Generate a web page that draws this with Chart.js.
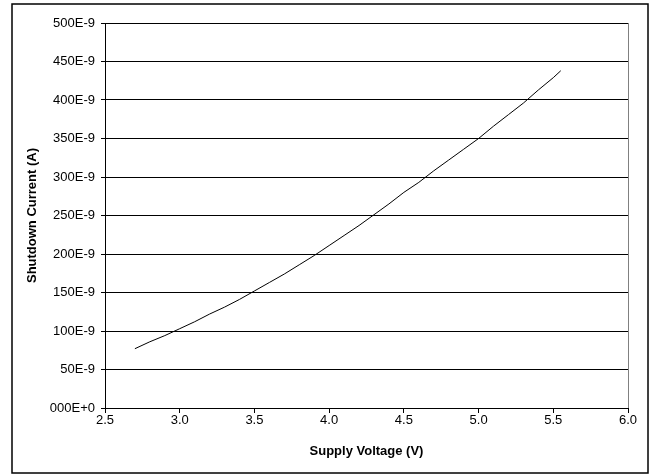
<!DOCTYPE html>
<html>
<head>
<meta charset="utf-8">
<script src="https://cdn.jsdelivr.net/npm/chart.js@4"></script>
<style>
  body { margin: 0; background: #fff; }
  #wrap { position: relative; width: 657px; height: 476px; }
</style>
</head>
<body>
<div id="wrap"><canvas id="chart" width="657" height="476"></canvas></div>
<script>
// Supply voltage (V) and shutdown current (in units of 1E-9 A)
const voltage = [2.7, 2.8, 2.9, 3.0, 3.1, 3.2, 3.3, 3.4, 3.5, 3.6, 3.7, 3.8, 3.9, 4.0, 4.1, 4.2, 4.3, 4.4, 4.5, 4.6, 4.7, 4.8, 4.9, 5.0, 5.1, 5.2, 5.3, 5.4, 5.5, 5.55];
const current = [77, 86, 94, 103, 112, 122, 131, 141, 152, 163, 174, 186, 198, 211, 224, 237, 251, 265, 280, 293, 308, 322, 336, 350, 366, 381, 396, 413, 429, 438];

const xTicks = [2.5, 3.0, 3.5, 4.0, 4.5, 5.0, 5.5, 6.0];
const yTicks = [0, 50, 100, 150, 200, 250, 300, 350, 400, 450, 500];

const points = voltage.map((v, i) => ({ x: v, y: current[i] }));

// Frame around the whole picture and grey right edge of plot area
const framePlugin = {
    id: 'frame',
    beforeDraw(chart) {
        const ctx = chart.ctx;
        ctx.save();
        ctx.fillStyle = '#fff';
        ctx.fillRect(0, 0, chart.width, chart.height);
        ctx.strokeStyle = '#000';
        ctx.lineWidth = 1.5;
        ctx.strokeRect(12, 4, 636, 469);
        ctx.restore();
    },
    afterDatasetsDraw(chart) {
        const a = chart.chartArea;
        const ctx = chart.ctx;
        ctx.save();
        ctx.strokeStyle = '#808080';
        ctx.lineWidth = 1;
        ctx.beginPath();
        ctx.moveTo(a.right + 0.5, a.top);
        ctx.lineTo(a.right + 0.5, a.bottom);
        ctx.stroke();
        ctx.restore();
    }
};

const font = { family: '"Liberation Sans", Arial, sans-serif', size: 13 };
const titleFont = { family: font.family, size: 13, weight: 'bold' };

new Chart(document.getElementById('chart'), {
    type: 'line',
    data: {
        datasets: [{
            data: points,
            borderColor: '#000',
            borderWidth: 1,
            pointRadius: 0,
            tension: 0,
            fill: false
        }]
    },
    options: {
        responsive: false,
        animation: false,
        layout: { padding: { left: 0, top: 23, right: 29, bottom: 0 } },
        plugins: { legend: { display: false }, tooltip: { enabled: false } },
        scales: {
            x: {
                type: 'linear',
                min: 2.5,
                max: 6.0,
                afterBuildTicks: s => { s.ticks = xTicks.map(v => ({ value: v })); },
                afterFit: s => { s.height = 68; },
                ticks: {
                    color: '#000',
                    font: font,
                    padding: 0,
                    maxRotation: 0,
                    callback: v => Number(v).toFixed(1)
                },
                grid: { drawOnChartArea: false, drawTicks: true, tickLength: 5, color: '#000' },
                border: { color: '#000', width: 1 },
                title: {
                    display: true,
                    text: 'Supply Voltage (V)',
                    color: '#000',
                    font: titleFont,
                    padding: { top: 0, bottom: 17 }
                }
            },
            y: {
                min: 0,
                max: 500,
                afterBuildTicks: s => { s.ticks = yTicks.map(v => ({ value: v })); },
                afterFit: s => { s.width = 105; },
                ticks: {
                    color: '#000',
                    font: font,
                    padding: 6,
                    callback: v => v === 0 ? '000E+0' : v + 'E-9'
                },
                grid: { color: '#000', lineWidth: 1, tickLength: 4 },
                border: { color: '#000', width: 1 },
                title: {
                    display: true,
                    text: 'Shutdown Current (A)',
                    color: '#000',
                    font: titleFont,
                    padding: { top: 25, bottom: 0 }
                }
            }
        }
    },
    plugins: [framePlugin]
});
</script>
</body>
</html>
